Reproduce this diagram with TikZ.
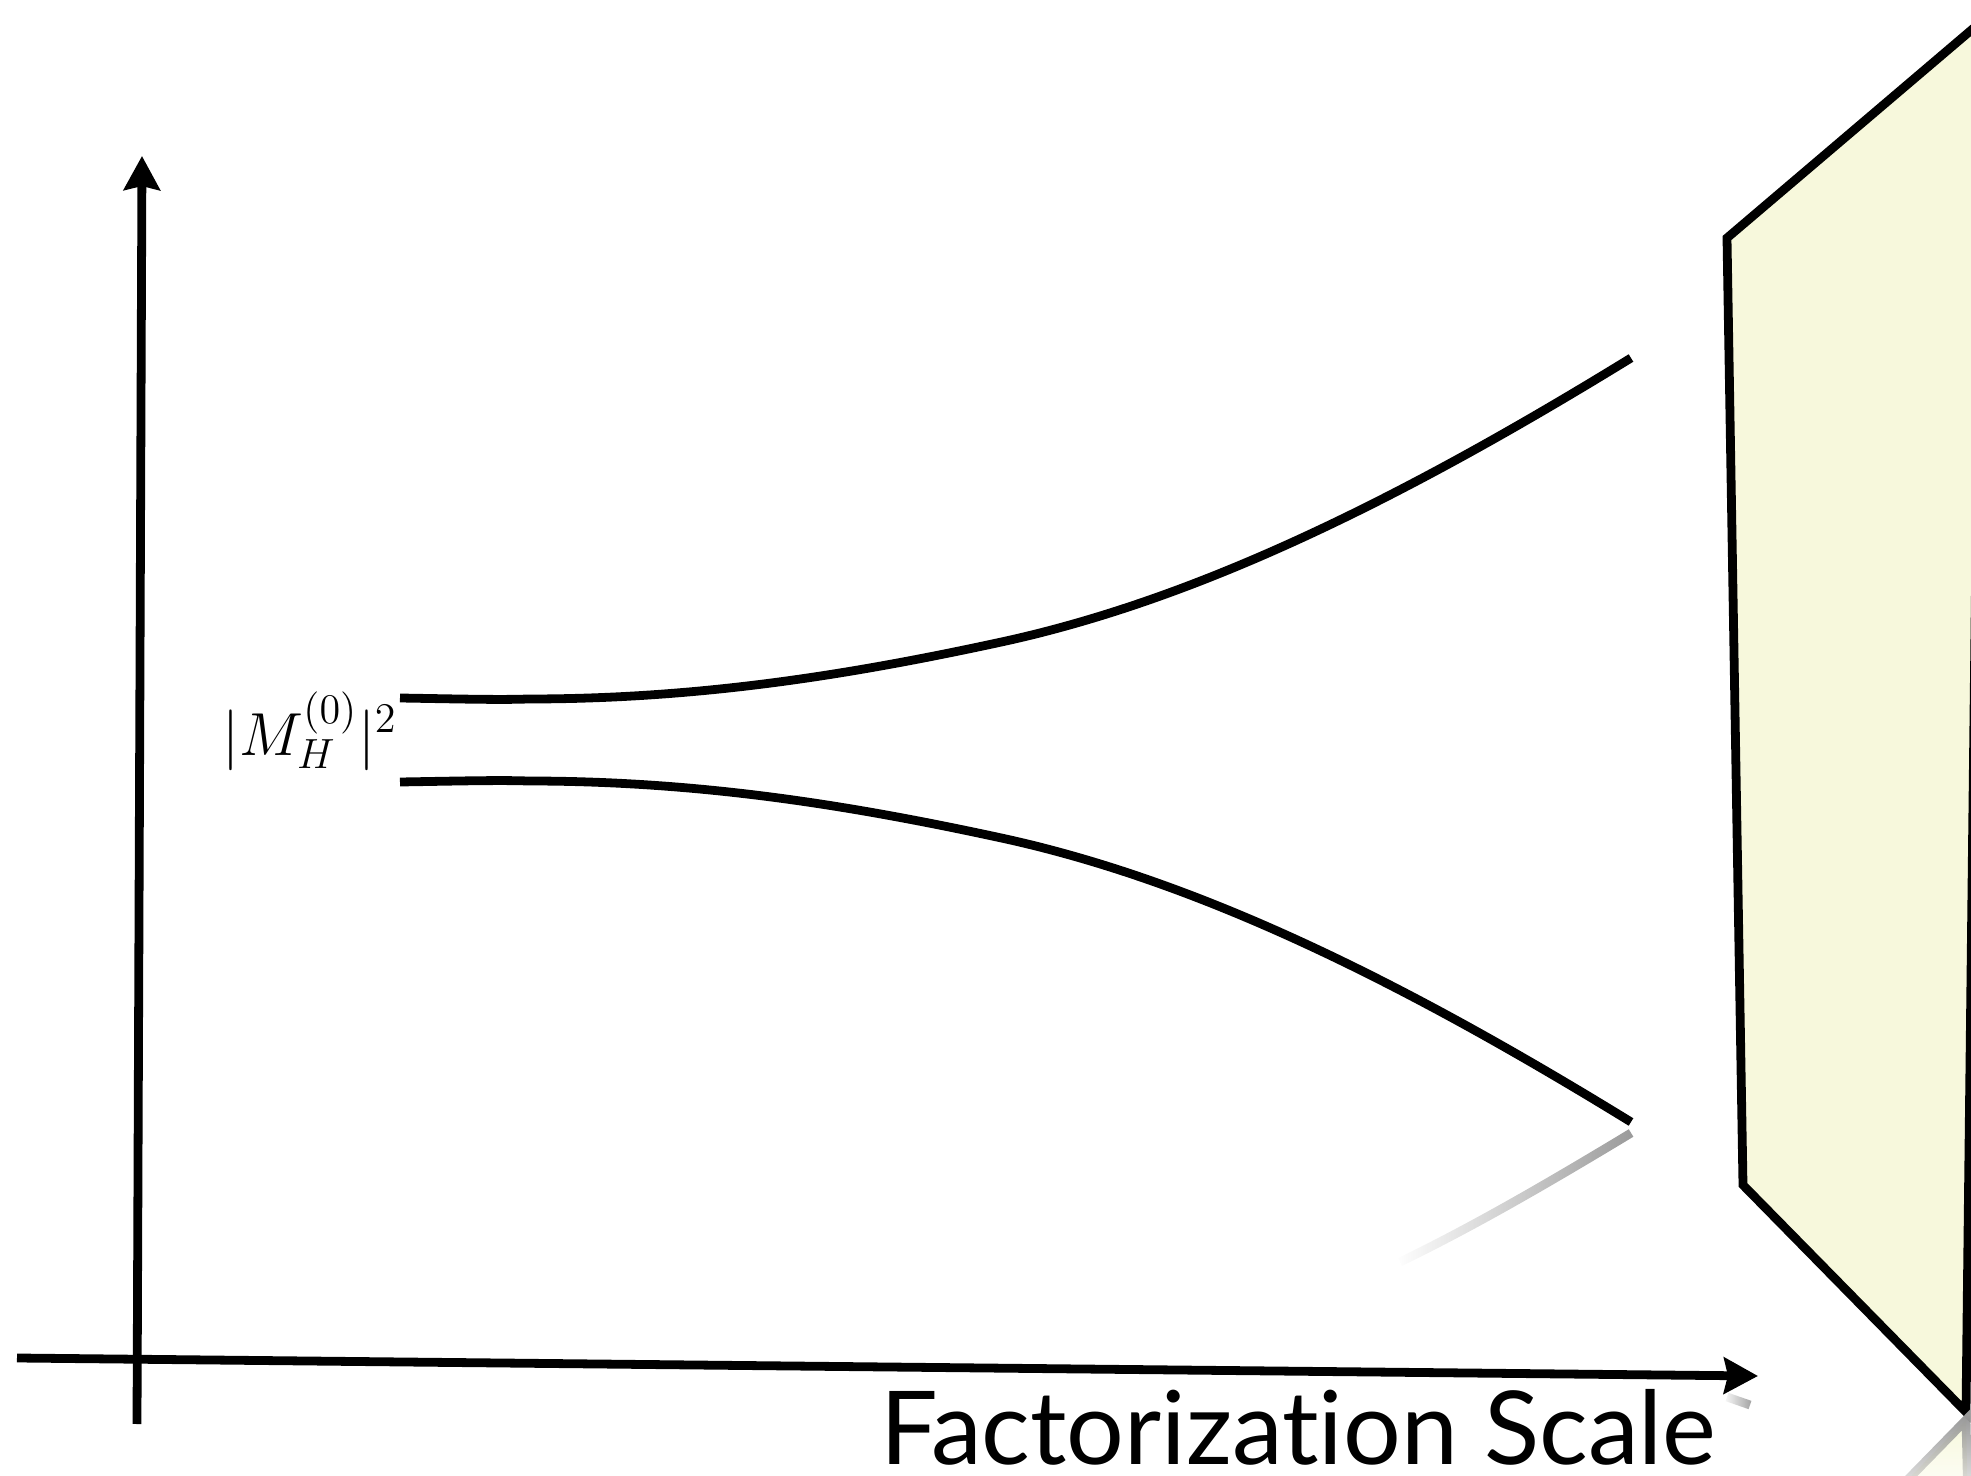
\documentclass[tikz,border=0pt]{standalone}
\usepackage{fontspec}
\usepackage{tikz}
\usetikzlibrary{arrows.meta, fadings}
\newfontfamily\axisfont[Ligatures=NoCommon]{Lato}
\definecolor{paleyellow}{RGB}{247,248,220}

\begin{document}
\begin{tikzpicture}[x=0.01cm, y=-0.01cm,
    axis/.style={line width=2.5pt, -{Stealth[length=0.34cm, width=0.36cm, inset=0.04cm]}},
    curve/.style={line width=2.5pt},
    panel/.style={draw, line width=2.5pt, fill=paleyellow, line join=miter},
    reflect/.style={draw=gray!80, line width=2.5pt},
    tag/.style={inner sep=0pt}
]

% Frame
\useasboundingbox (0,0) rectangle (1971,1476);
\clip (0,0) rectangle (1971,1476);

% Panel on the right
\draw[panel] (1727,238) -- (1743,1185) -- (1966,1412) -- (1982,21) -- cycle;

% Axes
\coordinate (xstart) at (17,1358);
\coordinate (xend) at (1758,1376);
\coordinate (ystart) at (137,1424);
\coordinate (yend) at (142,156);
\draw[axis] (xstart) -- (xend);
\draw[axis] (ystart) -- (yend);

% Upper and lower curves
\draw[curve] (400,698) .. controls (460,699) and (500,700) .. (528,699) .. controls (700,699) and (850,675) .. (1006,641)
    .. controls (1200,598) and (1400,500) .. (1631,358);
\draw[curve] (400,782) .. controls (460,781) and (500,780) .. (528,781) .. controls (700,781) and (850,805) .. (1006,839)
    .. controls (1200,882) and (1400,980) .. (1631,1122);

% Labels
\node[tag, anchor=base west, font=\fontsize{17}{20}\selectfont] (amp) at (222,755) {$|M_H^{(0)}|^2$};
\node[tag, anchor=base east, font=\axisfont\fontsize{29}{34}\selectfont] (xtitle) at (1717,1464) {Factorization Scale};

% Reflections
\path[reflect, path fading=west] (1631,1133) .. controls (1540,1188) and (1470,1228) .. (1400,1262);
\path[reflect, path fading=west] (1727,1397) -- (1750,1405);
\fill[paleyellow, path fading=south] (1966,1420) -- (1880,1508) -- (1968,1508) -- cycle;
\path[reflect, path fading=south] (1880,1508) -- (1966,1420) -- (1968,1508);

\end{tikzpicture}
\end{document}
